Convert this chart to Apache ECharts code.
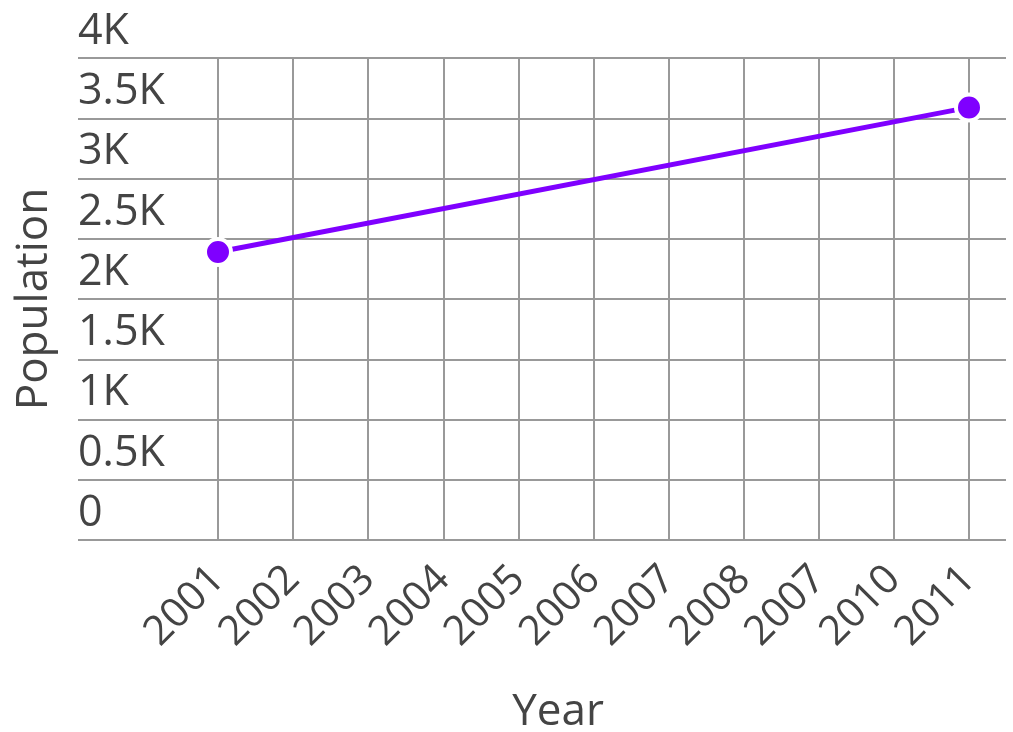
<!DOCTYPE html>
<html lang="en">
<head>
  <meta charset="UTF-8">
  <title>Population by Year</title>
  <script src="https://cdn.jsdelivr.net/npm/echarts@6/dist/echarts.min.js"></script>
  <style>
    html, body { margin: 0; padding: 0; background: #fff; }
  </style>
</head>
<body>
  <div id="main" style="width: 1013px;height:732px;"></div>
  <script type="text/javascript">
    // Data (years are as labelled, 2009 shows as 2007)
    var years = ['2001', '2002', '2003', '2004', '2005', '2006', '2007', '2008', '2007', '2010', '2011'];
    var population = [2390, null, null, null, null, null, null, null, null, null, 3590];
    var yTickLabels = ['0', '0.5K', '1K', '1.5K', '2K', '2.5K', '3K', '3.5K', '4K'];

    var font = '"Open Sans", "Noto Sans", sans-serif';
    var textColor = '#444444';
    var gridColor = '#999999';

    var myChart = echarts.init(document.getElementById('main'));

    var option = {
      animation: false,
      grid: [
        // wide grid carries the horizontal lines and y labels
        { left: 78, right: 7, top: 58, bottom: 192, outerBoundsMode: 'none' },
        // narrower grid for the year axis, points sit on the vertical lines
        { left: 218, right: 44, top: 58, bottom: 192, outerBoundsMode: 'none' }
      ],
      xAxis: [
        {
          gridIndex: 0,
          type: 'value',
          min: 0,
          max: 1,
          axisLine: { show: false },
          axisTick: { show: false },
          axisLabel: { show: false },
          splitLine: { show: false },
          name: 'Year',
          nameLocation: 'middle',
          nameGap: 150,
          nameTextStyle: {
            fontFamily: font,
            fontSize: 44,
            color: textColor,
            padding: [0, 0, 0, 32]
          }
        },
        {
          gridIndex: 1,
          type: 'category',
          data: years,
          boundaryGap: false,
          axisLine: { show: false },
          axisTick: { show: false },
          axisLabel: {
            rotate: 45,
            margin: 33,
            padding: [14, 0, 0, 0],
            fontFamily: font,
            fontSize: 41,
            color: textColor,
            interval: 0
          },
          splitLine: { show: true, lineStyle: { color: gridColor, width: 2 } }
        }
      ],
      yAxis: [
        {
          gridIndex: 0,
          type: 'value',
          min: 0,
          max: 4000,
          interval: 500,
          axisLine: { show: false },
          axisTick: { show: false },
          axisLabel: {
            inside: true,
            margin: 0,
            verticalAlign: 'bottom',
            padding: [0, 0, 5, 0],
            fontFamily: font,
            fontSize: 43,
            color: textColor,
            formatter: function (v) { return yTickLabels[Math.round(v / 500)]; }
          },
          splitLine: { show: true, lineStyle: { color: gridColor, width: 2 } },
          name: 'Population',
          nameLocation: 'middle',
          nameGap: 22,
          nameTextStyle: {
            fontFamily: font,
            fontSize: 44,
            color: textColor
          }
        },
        {
          gridIndex: 1,
          type: 'value',
          min: 0,
          max: 4000,
          interval: 500,
          axisLine: { show: false },
          axisTick: { show: false },
          axisLabel: { show: false },
          splitLine: { show: false }
        }
      ],
      series: [
        {
          name: 'Population',
          type: 'line',
          xAxisIndex: 1,
          yAxisIndex: 1,
          data: population,
          connectNulls: true,
          symbol: 'circle',
          symbolSize: 26,
          lineStyle: { color: '#7f00ff', width: 5 },
          itemStyle: { color: '#7f00ff', borderColor: '#ffffff', borderWidth: 4 },
          z: 5
        }
      ]
    };

    myChart.setOption(option);
  </script>
</body>
</html>
